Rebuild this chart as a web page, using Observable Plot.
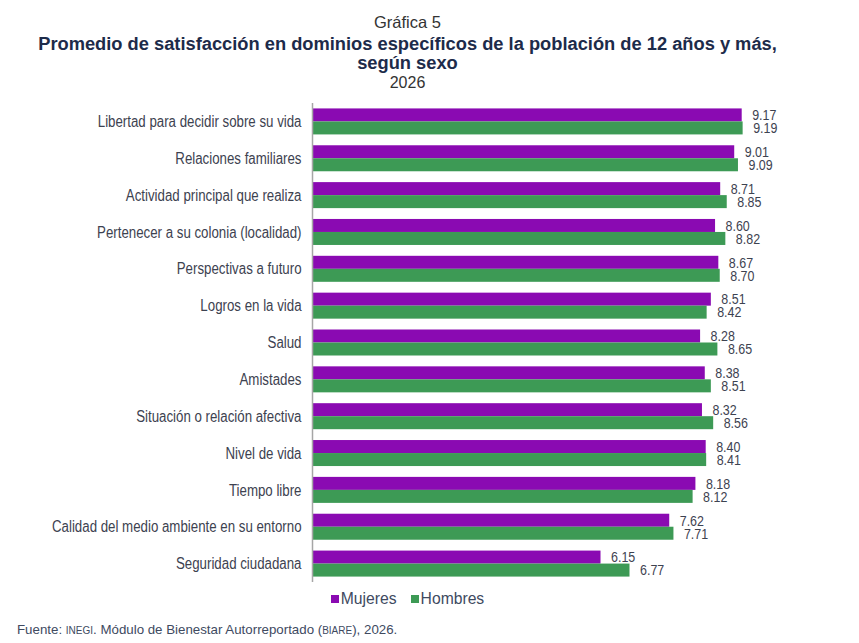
<!DOCTYPE html>
<html>
<head>
<meta charset="utf-8">
<script src="https://cdn.jsdelivr.net/npm/d3@7"></script>
<script src="https://cdn.jsdelivr.net/npm/@observablehq/plot@0.6"></script>
<style>
  body { margin: 0; background: #fff; font-family: "Liberation Sans", Arial, sans-serif; }
  #wrap { position: relative; width: 859px; height: 643px; overflow: hidden; }
  .kicker, .title, .year, #legend { position: absolute; left: 0; width: 815px; text-align: center; }
  .kicker { top: 13px; font-size: 16.5px; color: #333; }
  .title { top: 34px; font-size: 18.3px; font-weight: bold; color: #1d2b4a; line-height: 19px; }
  .year { top: 74px; font-size: 16px; color: #333; }
  #chart { position: absolute; left: 0; top: 96px; }
  #legend { top: 590px; font-size: 15.7px; color: #404a5f; }
  #legend span.sw { display: inline-block; width: 8px; height: 8px; margin-right: 2px; vertical-align: 1px; }
  #legend span.item { margin: 0 7px; }
  #foot { position: absolute; left: 17px; top: 622px; font-size: 13.3px; color: #404a5f; white-space: nowrap; }
  #foot small { font-size: 10px; }
</style>
</head>
<body>
<div id="wrap">
  <div class="kicker">Gráfica 5</div>
  <div class="title">Promedio de satisfacción en dominios específicos de la población de 12 años y más,<br>según sexo</div>
  <div class="year">2026</div>
  <div id="chart"></div>
  <div id="legend"></div>
  <div id="foot">Fuente: <small>INEGI</small>. Módulo de Bienestar Autorreportado (<small>BIARE</small>), 2026.</div>
</div>
<script>
const categories = [
  "Libertad para decidir sobre su vida",
  "Relaciones familiares",
  "Actividad principal que realiza",
  "Pertenecer a su colonia (localidad)",
  "Perspectivas a futuro",
  "Logros en la vida",
  "Salud",
  "Amistades",
  "Situación o relación afectiva",
  "Nivel de vida",
  "Tiempo libre",
  "Calidad del medio ambiente en su entorno",
  "Seguridad ciudadana"
];
const mujeres = [9.17, 9.01, 8.71, 8.60, 8.67, 8.51, 8.28, 8.38, 8.32, 8.40, 8.18, 7.62, 6.15];
const hombres = [9.19, 9.09, 8.85, 8.82, 8.70, 8.42, 8.65, 8.51, 8.56, 8.41, 8.12, 7.71, 6.77];
const seriesNames = ["Mujeres", "Hombres"];
const seriesColors = ["#8a0ab2", "#3d9a55"];

const data = categories.map((c, i) => ({cat: c, m: mujeres[i], h: hombres[i]}));

const marginTop = 7, marginBottom = 0, plotH = 479;
const band = plotH / categories.length;
const barH = 13;
const outer = (band - 2 * barH) / 2;

const chart = Plot.plot({
  width: 859,
  height: marginTop + plotH + marginBottom,
  marginLeft: 313,
  marginRight: 78.5,
  marginTop,
  marginBottom,
  style: {fontFamily: "'Liberation Sans', Arial, sans-serif", fontSize: "16px", color: "#3d4250", background: "#fff"},
  x: {domain: [0, 10], axis: null},
  y: {domain: categories, padding: 0, round: false, label: null, tickSize: 0, tickPadding: 12},
  marks: [
    Plot.barX(data, {x: "m", y: "cat", fill: seriesColors[0], insetTop: outer, insetBottom: outer + barH}),
    Plot.barX(data, {x: "h", y: "cat", fill: seriesColors[1], insetTop: outer + barH, insetBottom: outer}),
    Plot.text(data, {x: "m", y: "cat", text: d => d.m.toFixed(2), dx: 10, dy: -barH / 2, textAnchor: "start", fill: "#3d4250", fontSize: 15}),
    Plot.text(data, {x: "h", y: "cat", text: d => d.h.toFixed(2), dx: 10, dy: barH / 2, textAnchor: "start", fill: "#3d4250", fontSize: 15}),
    Plot.ruleX([0], {stroke: "#a6a6a6", strokeWidth: 1.5, dx: -1})
  ]
});
document.getElementById("chart").appendChild(chart);

// narrow the chart's texts (the reference uses a condensed face)
chart.querySelectorAll("text").forEach(t => {
  const w = t.getComputedTextLength();
  if (w > 0) {
    t.setAttribute("textLength", (w * 0.83).toFixed(2));
    t.setAttribute("lengthAdjust", "spacingAndGlyphs");
  }
});

const leg = document.getElementById("legend");
seriesNames.forEach((n, i) => {
  const item = document.createElement("span");
  item.className = "item";
  const sw = document.createElement("span");
  sw.className = "sw";
  sw.style.background = seriesColors[i];
  item.appendChild(sw);
  item.appendChild(document.createTextNode(n));
  leg.appendChild(item);
});
</script>
</body>
</html>
